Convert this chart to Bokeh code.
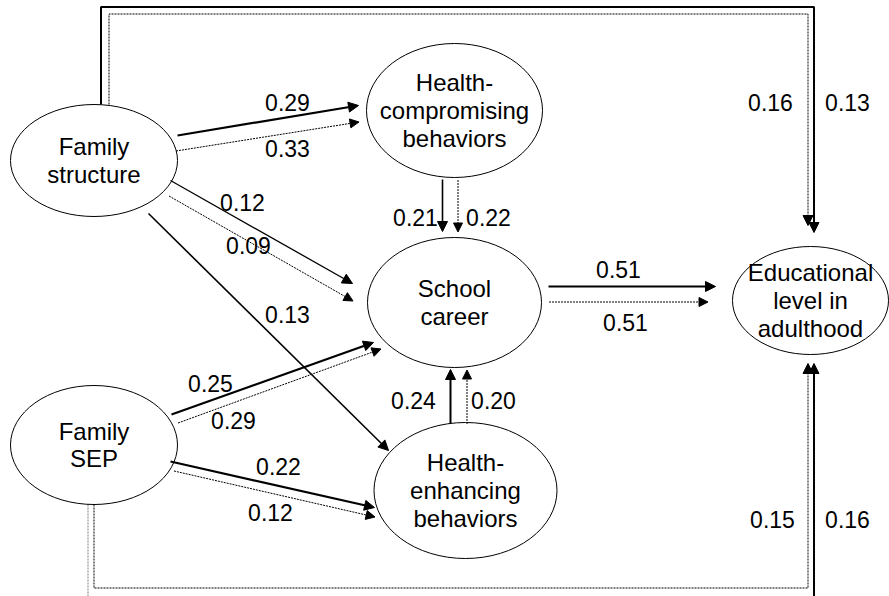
from bokeh.plotting import figure
from bokeh.models import Range1d, Arrow, NormalHead, ColumnDataSource
from bokeh.core.properties import value
from bokeh.embed import file_html
from bokeh.resources import INLINE

# ---------------- data ----------------
node_names = ["Family\nstructure", "Family\nSEP", "Health-\ncompromising\nbehaviors",
              "School\ncareer", "Health-\nenhancing\nbehaviors", "Educational\nlevel in\nadulthood"]
# path coefficients (solid model / dotted model)
paths = ["FS-HC", "FS-SC", "FS-HE", "SEP-SC", "SEP-HE", "HC-SC", "HE-SC", "SC-EDU", "FS-EDU", "SEP-EDU"]
coef_solid = [0.29, 0.12, 0.13, 0.25, 0.22, 0.21, 0.24, 0.51, 0.13, 0.16]
coef_dotted = [0.33, 0.09, None, 0.29, 0.12, 0.22, 0.20, 0.51, 0.16, 0.15]

# ---------------- layout (pixel space, y down) ----------------
node_x = [93.5, 93.5, 454, 454, 465, 810]
node_y = [160, 444.5, 110, 302, 490, 300]
node_w = [167, 167, 176, 174, 183, 156]
node_h = [112, 119, 134, 130, 136, 108]

solid_geo = {
    "FS-HC": (177, 135, 358, 105, 2.2),
    "FS-SC": (170, 180, 352, 283, 1.3),
    "FS-HE": (148, 213, 388, 450, 1.6),
    "SEP-SC": (171, 414, 373, 342, 2.2),
    "SEP-HE": (170, 461, 374, 507, 2.2),
    "HC-SC": (442, 179, 442, 231, 1.6),
    "HE-SC": (450, 423, 450, 369, 2.0),
    "SC-EDU": (548, 286, 715, 286, 2.0),
}
dotted_geo = {
    "FS-HC": (175, 150, 358, 121),
    "FS-SC": (168, 195, 352, 300),
    "SEP-SC": (177, 422, 380, 348),
    "SEP-HE": (173, 470, 374, 516),
    "HC-SC": (457, 179, 457, 231),
    "HE-SC": (466, 423, 466, 369),
    "SC-EDU": (548, 301, 707, 301),
}
solid_lab = {"FS-HC": (287, 102), "FS-SC": (242, 202), "FS-HE": (287, 314), "SEP-SC": (210, 383),
             "SEP-HE": (278, 466), "HC-SC": (415, 217), "HE-SC": (413, 400), "SC-EDU": (618, 269),
             "FS-EDU": (847, 102), "SEP-EDU": (847, 519)}
dotted_lab = {"FS-HC": (287, 148), "FS-SC": (248, 245), "SEP-SC": (233, 420), "SEP-HE": (270, 512),
              "HC-SC": (488, 217), "HE-SC": (493, 400), "SC-EDU": (625, 322),
              "FS-EDU": (770, 102), "SEP-EDU": (772, 519)}

FONT = "Liberation Sans"
FS = "23px"
NFS = "24px"
DOT = "2 1"

p = figure(width=889, height=596, output_backend="svg", toolbar_location=None,
           x_range=Range1d(0, 889), y_range=Range1d(596, 0), min_border=0)
p.axis.visible = False
p.grid.visible = False
p.outline_line_color = None
p.background_fill_color = "white"
p.border_fill_color = "white"

# frame paths (long indirect paths to Educational level)
p.line([100.5, 100.5, 813.5, 813.5], [104, 6.5, 6.5, 228], line_color="black", line_width=2)
p.line([108.5, 108.5, 807.5, 807.5], [104, 13.5, 13.5, 222], line_color="black", line_width=1, line_dash=DOT)
p.line([93.5, 93.5, 807.5, 807.5], [504, 587.5, 587.5, 366], line_color="black", line_width=1, line_dash=DOT)
p.line([87.5, 87.5], [504, 600], line_color="#aaaaaa", line_width=1.5, line_dash=DOT)
p.line([813.5, 813.5], [600, 366], line_color="black", line_width=2)

for (x0, y0, x1, y1) in [(813.5, 220, 813.5, 232), (807.5, 213, 807.5, 225),
                         (813.5, 375, 813.5, 363), (807.5, 375, 807.5, 363)]:
    p.add_layout(Arrow(end=NormalHead(size=10, fill_color="black", line_color="black", line_width=1),
                       x_start=x0, y_start=y0, x_end=x1, y_end=y1, line_width=0, line_alpha=0))

for k, (x0, y0, x1, y1, w) in solid_geo.items():
    p.add_layout(Arrow(end=NormalHead(size=10, fill_color="black", line_color="black", line_width=1),
                       x_start=x0, y_start=y0, x_end=x1, y_end=y1,
                       line_color="black", line_width=w))
for k, (x0, y0, x1, y1) in dotted_geo.items():
    p.add_layout(Arrow(end=NormalHead(size=9, fill_color="black", line_color="black", line_width=1),
                       x_start=x0 + 0.5, y_start=y0 + 0.5, x_end=x1 + 0.5, y_end=y1 + 0.5,
                       line_color="black", line_width=1, line_dash=DOT))

# nodes
nsrc = ColumnDataSource(dict(x=node_x, y=node_y, w=node_w, h=node_h, t=node_names))
p.ellipse(x="x", y="y", width="w", height="h", source=nsrc, fill_color="white", fill_alpha=0,
          line_color="black", line_width=1)
p.text(x="x", y="y", text="t", source=nsrc, text_font=value(FONT), text_font_size=NFS,
       text_align="center", text_baseline="middle", text_line_height=1.02, text_color="black")

# coefficient labels
lx, ly, lt = [], [], []
for i, k in enumerate(paths):
    if coef_solid[i] is not None:
        x, y = solid_lab[k]
        lx.append(x); ly.append(y); lt.append(f"{coef_solid[i]:.2f}")
    if coef_dotted[i] is not None:
        x, y = dotted_lab[k]
        lx.append(x); ly.append(y); lt.append(f"{coef_dotted[i]:.2f}")
p.text(x=lx, y=ly, text=lt, text_font=value(FONT), text_font_size=FS,
       text_align="center", text_baseline="middle", text_color="black")

open("out.html", "w").write(file_html(p, INLINE))
